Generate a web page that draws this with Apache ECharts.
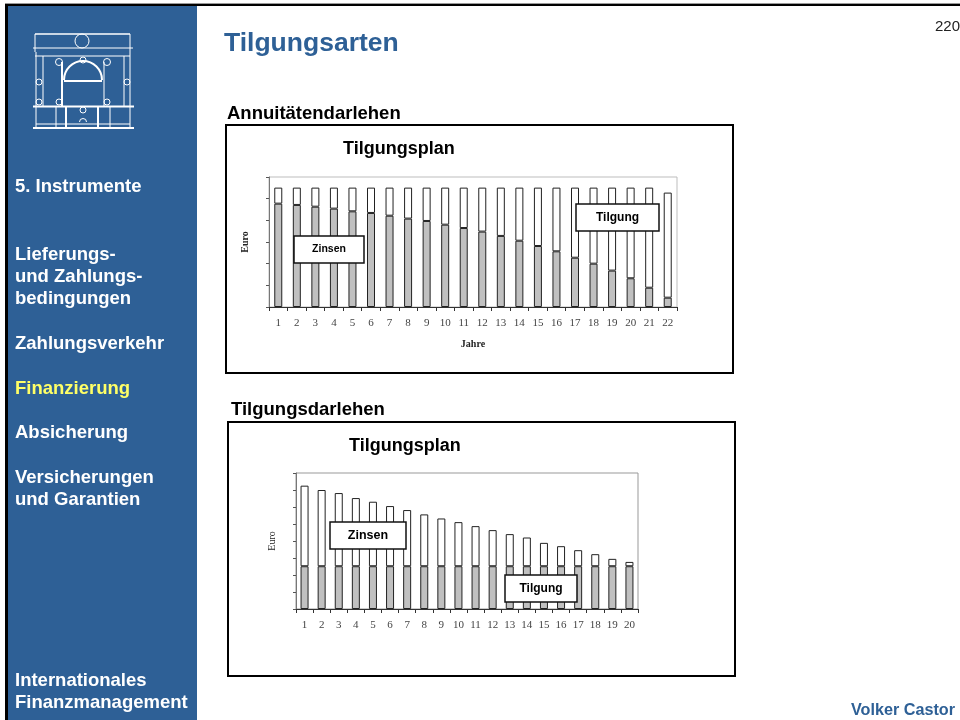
<!DOCTYPE html>
<html>
<head>
<meta charset="utf-8">
<style>
  html, body { margin: 0; padding: 0; background: #fff; }
  #chart { width: 960px; height: 720px; }
</style>
<script src="https://cdn.jsdelivr.net/npm/echarts@6/dist/echarts.min.js"></script>
</head>
<body>
<div id="chart"></div>
<script>
// Annuitaetendarlehen
const years1 = ['1','2','3','4','5','6','7','8','9','10','11','12','13','14','15','16','17','18','19','20','21','22'];
const zinsen1 = [4770,4710,4630,4540,4415,4340,4215,4080,3970,3800,3645,3480,3280,3060,2815,2570,2275,2000,1680,1325,890,430];
const tilgung1 = [740,800,880,970,1095,1170,1295,1430,1540,1710,1865,2030,2230,2450,2695,2940,3235,3510,3830,4185,4620,4850];

// Tilgungsdarlehen
const years2 = ['1','2','3','4','5','6','7','8','9','10','11','12','13','14','15','16','17','18','19','20'];
const zinsen2 = [2515,2515,2515,2515,2515,2515,2515,2515,2515,2515,2515,2515,2515,2515,2515,2515,2515,2515,2515,2515];
const tilgung2 = [4740,4485,4305,4010,3795,3540,3305,3050,2810,2595,2360,2125,1890,1690,1375,1180,945,710,435,255];

const navItems = [
  { text: '5. Instrumente', y: 187 },
  { text: 'Lieferungs-', y: 255 },
  { text: 'und Zahlungs-', y: 277 },
  { text: 'bedingungen', y: 299 },
  { text: 'Zahlungsverkehr', y: 344 },
  { text: 'Finanzierung', y: 389, color: '#ffff66' },
  { text: 'Absicherung', y: 433 },
  { text: 'Versicherungen', y: 478 },
  { text: 'und Garantien', y: 500 },
  { text: 'Internationales', y: 681 },
  { text: 'Finanzmanagement', y: 703 }
];

const BLUE = '#2e6096';
const SANS = '"Liberation Sans", Arial, sans-serif';
const SERIF = '"Liberation Serif", "Times New Roman", serif';

const myChart = echarts.init(document.getElementById('chart'), null, { renderer: 'canvas' });

function label(text, x, y, size, color, extra) {
  return {
    type: 'text', x: x, y: y, z: 5,
    style: Object.assign({
      text: text, fill: color, textVerticalAlign: 'middle',
      font: 'bold ' + size + 'px ' + SANS
    }, extra || {})
  };
}

function noteBox(text, x, y, w, h, size) {
  return {
    type: 'rect', z: 100,
    shape: { x: x, y: y, width: w, height: h },
    style: { fill: '#fff', stroke: '#111', lineWidth: 1.5 },
    textContent: { z: 101, style: { text: text, fill: '#000', font: 'bold ' + size + 'px ' + SANS } },
    textConfig: { position: 'inside' }
  };
}

// Logo: Umriss des Gebaeudes
function logoLine(x1, y1, x2, y2, w) {
  return { type: 'line', z: 6, shape: { x1: x1, y1: y1, x2: x2, y2: y2 }, style: { stroke: '#fff', lineWidth: w || 1 } };
}
function logoRing(cx, cy, r) {
  return { type: 'circle', z: 6, shape: { cx: cx, cy: cy, r: r }, style: { fill: 'none', stroke: '#fff', lineWidth: 1 } };
}
const logo = [
  logoLine(35, 34, 130, 34, 1.5), logoLine(35, 34, 35, 52), logoLine(130, 34, 130, 52),
  logoLine(33, 48, 133, 48, 1), logoLine(35, 56, 130, 56),
  logoLine(36, 52, 36, 128), logoLine(130, 52, 130, 128),
  logoLine(43, 56, 43, 106), logoLine(124, 56, 124, 106),
  logoLine(62, 62, 62, 106, 2), logoLine(104, 62, 104, 106, 1),
  logoLine(64, 81, 102, 81, 2), logoLine(33, 106.5, 134, 106.5, 2),
  logoLine(33, 128, 134, 128, 2), logoLine(56, 106, 56, 128), logoLine(66, 106, 66, 128, 2),
  logoLine(98, 106, 98, 128, 2), logoLine(110, 106, 110, 128), logoLine(36, 124, 130, 124),
  logoRing(82, 41, 7), logoRing(59, 62, 3.5), logoRing(107, 62, 3.5), logoRing(83, 60, 3),
  logoRing(39, 82, 3), logoRing(127, 82, 3), logoRing(39, 102, 3), logoRing(59, 102, 3),
  logoRing(107, 102, 3), logoRing(83, 110, 3),
  { type: 'arc', z: 6, shape: { cx: 83, cy: 80, r: 19, startAngle: Math.PI, endAngle: 2 * Math.PI }, style: { stroke: '#fff', lineWidth: 2, fill: 'none' } },
  { type: 'arc', z: 6, shape: { cx: 83, cy: 122, r: 3.5, startAngle: Math.PI, endAngle: 2 * Math.PI }, style: { stroke: '#fff', lineWidth: 1, fill: 'none' } }
];

const graphic = [
  { type: 'rect', z: 0, shape: { x: 5, y: 3, width: 955, height: 1 }, style: { fill: '#999' } },
  { type: 'rect', z: 1, shape: { x: 5, y: 4, width: 955, height: 2 }, style: { fill: '#000' } },
  { type: 'rect', z: 1, shape: { x: 5, y: 4, width: 3, height: 716 }, style: { fill: '#000' } },
  { type: 'rect', z: 1, shape: { x: 8, y: 6, width: 189, height: 714 }, style: { fill: BLUE } },
  { type: 'rect', z: 1, shape: { x: 226, y: 125, width: 507, height: 248 }, style: { fill: 'none', stroke: '#000', lineWidth: 2 } },
  { type: 'rect', z: 1, shape: { x: 228, y: 422, width: 507, height: 254 }, style: { fill: 'none', stroke: '#000', lineWidth: 2 } },
  label('Tilgungsarten', 224, 44, 26.5, BLUE),
  label('220', 935, 27, 15, '#222', { font: '15px ' + SANS }),
  label('Annuitätendarlehen', 227, 114, 18.5, '#000'),
  label('Tilgungsdarlehen', 231, 410, 18.5, '#000'),
  label('Volker Castor', 851, 711, 16.2, BLUE),
  noteBox('Zinsen', 294, 236, 70, 27, 10.5),
  noteBox('Tilgung', 576, 204, 83, 27, 12),
  noteBox('Zinsen', 330, 522, 76, 27, 12.5),
  noteBox('Tilgung', 505, 575, 72, 27, 12)
].concat(logo, navItems.map(function (n) {
  return label(n.text, 15, n.y, 18.5, n.color || '#fff');
}));

function axisPair(gridIndex, cats, maxVal, xName, yBold) {
  return {
    x: {
      type: 'category', gridIndex: gridIndex, data: cats,
      name: xName, nameLocation: 'middle', nameGap: 32,
      nameTextStyle: { fontFamily: SERIF, fontWeight: 'bold', fontSize: 10, color: '#222' },
      axisLine: { lineStyle: { color: '#333', width: 1 } },
      axisTick: { show: true, length: 4, lineStyle: { color: '#333' } },
      axisLabel: { interval: 0, margin: 11, fontFamily: SERIF, fontSize: 11, color: '#444' }
    },
    y: {
      type: 'value', gridIndex: gridIndex, min: 0, max: maxVal, interval: 1000,
      name: 'Euro', nameLocation: 'middle', nameGap: 19,
      nameTextStyle: { fontFamily: SERIF, fontWeight: yBold ? 'bold' : 'normal', fontSize: 10, color: '#222' },
      axisLine: { show: true, lineStyle: { color: '#777' } },
      axisTick: { show: true, length: 3, lineStyle: { color: '#555' } },
      axisLabel: { show: false },
      splitLine: { show: false }
    }
  };
}

const a1 = axisPair(0, years1, 6000, 'Jahre', true);
const a2 = axisPair(1, years2, 8000, '', false);

function barSeries(name, idx, stack, data, fill, width) {
  return {
    name: name, type: 'bar', xAxisIndex: idx, yAxisIndex: idx, stack: stack,
    data: data, barWidth: width, silent: true, animation: false,
    itemStyle: { color: fill, borderColor: '#222', borderWidth: 1 }
  };
}

myChart.setOption({
  backgroundColor: '#fff',
  animation: false,
  title: [
    { text: 'Tilgungsplan', left: 343, top: 140, textStyle: { fontFamily: SANS, fontWeight: 'bold', fontSize: 18, color: '#000' }, padding: 0 },
    { text: 'Tilgungsplan', left: 349, top: 437, textStyle: { fontFamily: SANS, fontWeight: 'bold', fontSize: 18, color: '#000' }, padding: 0 }
  ],
  grid: [
    { left: 269, top: 177, width: 408, height: 130, show: true, borderColor: '#bdbdbd', borderWidth: 1, backgroundColor: '#fff' },
    { left: 296, top: 473, width: 342, height: 136, show: true, borderColor: '#999', borderWidth: 1, backgroundColor: '#fff' }
  ],
  xAxis: [a1.x, a2.x],
  yAxis: [a1.y, a2.y],
  graphic: graphic,
  series: [
    barSeries('Zinsen', 0, 'plan1', zinsen1, '#c0c0c0', 8),
    barSeries('Tilgung', 0, 'plan1', tilgung1, '#fff', 8),
    barSeries('Zinsen', 1, 'plan2', zinsen2, '#c0c0c0', 8),
    barSeries('Tilgung', 1, 'plan2', tilgung2, '#fff', 8)
  ]
});
</script>
</body>
</html>
